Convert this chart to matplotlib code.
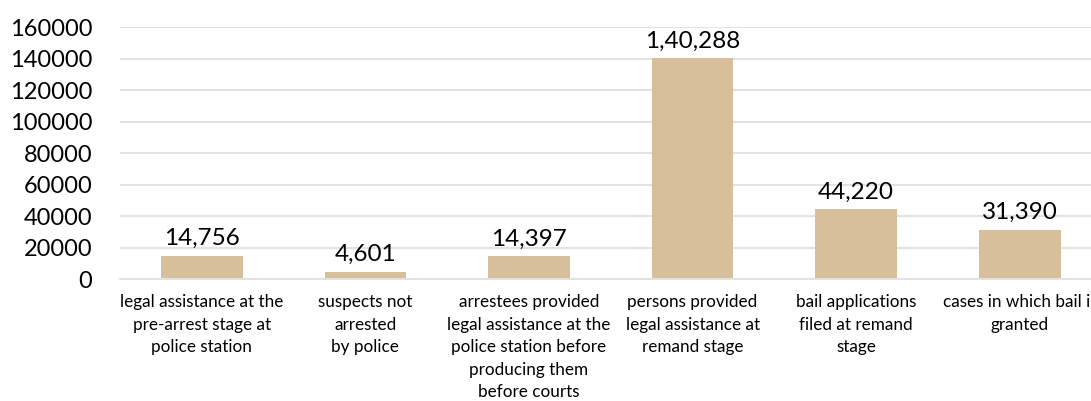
import matplotlib.pyplot as plt
import numpy as np

# ------------------------------- data -----------------------------------------
categories = [
    "legal assistance at the\npre-arrest stage at\npolice station",
    "suspects not\narrested\nby police",
    "arrestees provided\nlegal assistance at the\npolice station before\nproducing them\nbefore courts",
    "persons provided\nlegal assistance at\nremand stage",
    "bail applications\nfiled at remand\nstage",
    "cases in which bail is\ngranted",
]
values = [14756, 4601, 14397, 140288, 44220, 31390]
value_labels = ["14,756", "4,601", "14,397", "1,40,288", "44,220", "31,390"]
y_ticks = [0, 20000, 40000, 60000, 80000, 100000, 120000, 140000, 160000]

bar_color = "#D7BF9C"
grid_color = "#E2E2E2"
plt.rcParams['font.family'] = ['Lato', 'DejaVu Sans']

# ------------------------------- figure ---------------------------------------
fig = plt.figure(figsize=(10.91, 4.01), dpi=100)
# plot area runs past the right edge, like the clipped original
ax = fig.add_axes([0.110, 0.304, 0.8997, 0.628])

x = np.arange(len(values))
ax.bar(x, values, width=0.5, color=bar_color, zorder=2)

for xi, v, lab in zip(x, values, value_labels):
    ax.annotate(lab, (xi, v), xytext=(0, 5), textcoords='offset points',
                ha='center', va='bottom', fontsize=17.5, color='black')

ax.set_xlim(-0.5, len(values) - 0.5)
ax.set_ylim(0, 160000)
ax.set_yticks(y_ticks)
ax.set_yticklabels([str(t) for t in y_ticks], fontsize=17, color='black')
ax.yaxis.grid(True, color=grid_color, linewidth=1.5, zorder=0)

ax.set_xticks(x)
ax.set_xticklabels(categories, fontsize=12.3, linespacing=1.5, va='top',
                   color='black')
ax.tick_params(axis='x', length=0, pad=11)
ax.tick_params(axis='y', length=0, pad=20)

for side in ['top', 'right', 'left']:
    ax.spines[side].set_visible(False)
ax.spines['bottom'].set_color(grid_color)
ax.spines['bottom'].set_linewidth(1.5)

fig.savefig("out.png", dpi=100)
